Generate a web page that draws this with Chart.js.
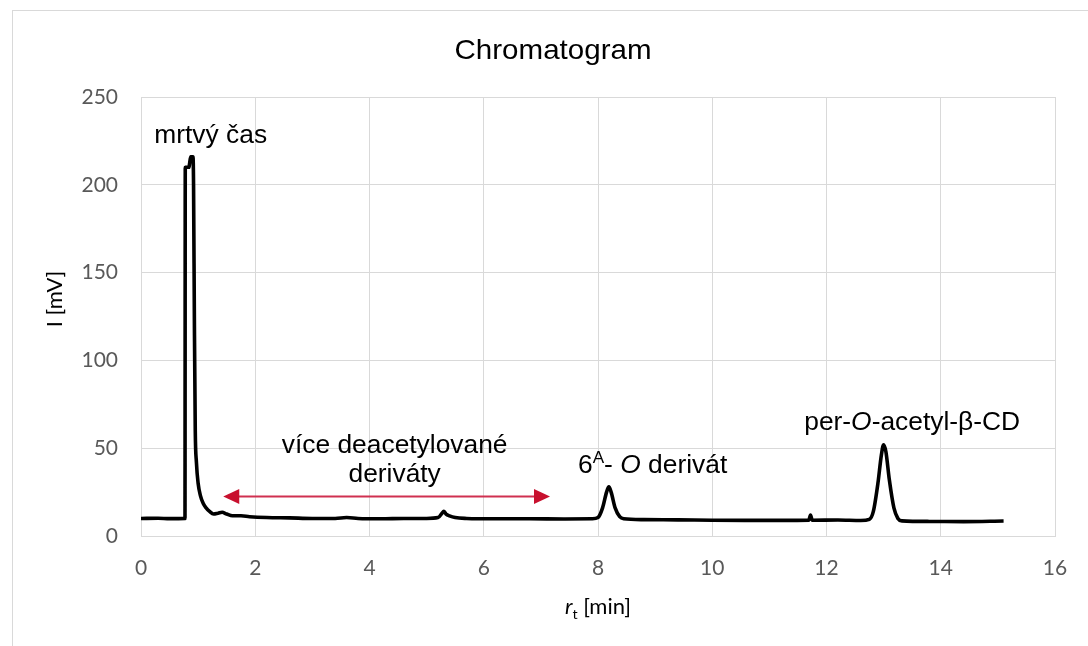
<!DOCTYPE html>
<html>
<head>
<meta charset="utf-8">
<script src="https://cdn.jsdelivr.net/npm/chart.js@4/dist/chart.umd.min.js"></script>
<style>
html,body{margin:0;padding:0;background:#fff;}
#c{display:block;}
</style>
</head>
<body>
<canvas id="c" width="1088" height="646"></canvas>
<script>
// ---- data ----
const times = [0,0.3,0.5,0.77,0.775,0.84,0.85,0.87,0.91,0.92,0.935,0.95,0.97,1.0,1.04,1.09,1.14,1.2,1.27,1.35,1.42,1.5,1.6,1.75,1.9,2.2,2.6,3.0,3.4,3.6,3.8,4.2,4.6,5.0,5.2,5.27,5.3,5.34,5.4,5.5,5.7,6.2,6.8,7.4,7.9,8.0,8.08,8.15,8.19,8.23,8.3,8.38,8.45,8.8,9.4,10.0,10.6,11.2,11.69,11.72,11.75,12.2,12.6,12.75,12.82,12.9,12.96,13.0,13.04,13.1,13.18,13.25,13.32,13.8,14.4,15.1];
const signal = [10,10.1,9.9,10,210,210,212,216,216,200,120,60,42,30,23,18.5,16,14,12.5,13,13.5,12.5,11.5,11.5,11,10.5,10.3,10,10,10.5,10,9.8,10,10,10.5,13,14,12.5,11.5,10.5,10,9.8,9.8,9.7,9.8,10.5,16,25,28,25,16,11,9.8,9.3,9.2,9.0,8.9,8.9,9,12,9,9.1,8.8,9.5,14,30,46,52,48,32,16,10,8.6,8.3,8.2,8.5];
const xTicks = [0,2,4,6,8,10,12,14,16];
const yTicks = [0,50,100,150,200,250];
const chartTitle = 'Chromatogram';
const labelDeadTime = 'mrtvý čas';
const labelMulti1 = 'více deacetylované';
const labelMulti2 = 'deriváty';
const arrowRange = [1.44, 7.16];
const arrowLevel = 22.8;

const points = times.map((t,i)=>({x:t,y:signal[i]}));

const SX = 1.055;
const AFONT = '"Liberation Sans", Arial, sans-serif';
const TFONT = 'Lato, "Liberation Sans", sans-serif';

function richWidth(ctx, segs, size, family){
  let w=0;
  for(const s of segs){
    const sz = (s.sup||s.sub)? size*0.65 : size;
    ctx.font = (s.it?'italic ':'')+sz+'px '+family;
    w += ctx.measureText(s.t).width;
  }
  return w;
}
function drawRich(ctx, segs, x, y, align, size, family, color, sx){
  ctx.save();
  ctx.translate(x,y);
  ctx.scale(sx,1);
  const w = richWidth(ctx, segs, size, family);
  let cx = align==='center' ? -w/2 : (align==='right' ? -w : 0);
  ctx.fillStyle = color;
  ctx.textBaseline = 'alphabetic';
  ctx.textAlign = 'left';
  for(const s of segs){
    const sz = (s.sup||s.sub)? size*0.65 : size;
    ctx.font = (s.it?'italic ':'')+sz+'px '+family;
    let dy = 0;
    if(s.sup) dy = -size*0.38;
    if(s.sub) dy = size*0.22;
    ctx.fillText(s.t, cx, dy);
    cx += ctx.measureText(s.t).width;
  }
  ctx.restore();
}

const decor = {
  id:'decor',
  beforeDraw(chart){
    const ctx = chart.ctx;
    ctx.save();
    ctx.fillStyle='#fff';
    ctx.fillRect(0,0,chart.width,chart.height);
    ctx.strokeStyle='#d9d9d9';
    ctx.lineWidth=1;
    ctx.strokeRect(12.5,10.5,1300,900);
    ctx.restore();
  },
  afterDraw(chart){
    const ctx = chart.ctx;
    const xs = chart.scales.x, ys = chart.scales.y;
    const ca = chart.chartArea;
    drawRich(ctx,[{t:chartTitle}], 553, 59, 'center', 28, AFONT, '#000', SX);
    drawRich(ctx,[{t:'r',it:true},{t:'t',sub:true},{t:' [min]'}], (ca.left+ca.right)/2, 614, 'center', 22, TFONT, '#000', 1);
    ctx.save();
    ctx.translate(62, 299);
    ctx.rotate(-Math.PI/2);
    drawRich(ctx,[{t:'I [mV]'}], 0, 0, 'center', 22, TFONT, '#000', 1);
    ctx.restore();
    drawRich(ctx,[{t:labelDeadTime}], xs.getPixelForValue(1.22), ys.getPixelForValue(223.8), 'center', 25, AFONT, '#000', SX);
    drawRich(ctx,[{t:labelMulti1}], xs.getPixelForValue(4.44), ys.getPixelForValue(47.3), 'center', 25, AFONT, '#000', SX);
    drawRich(ctx,[{t:labelMulti2}], xs.getPixelForValue(4.44), ys.getPixelForValue(30.8), 'center', 25, AFONT, '#000', SX);
    drawRich(ctx,[{t:'6'},{t:'A',sup:true},{t:'- '},{t:'O',it:true},{t:' derivát'}], xs.getPixelForValue(7.65), ys.getPixelForValue(35.9), 'left', 25, AFONT, '#000', SX);
    drawRich(ctx,[{t:'per-'},{t:'O',it:true},{t:'-acetyl-β-CD'}], xs.getPixelForValue(11.61), ys.getPixelForValue(60.5), 'left', 25, AFONT, '#000', SX);
    const ax1 = xs.getPixelForValue(arrowRange[0]), ax2 = xs.getPixelForValue(arrowRange[1]);
    const ay = Math.round(ys.getPixelForValue(arrowLevel))+0.5;
    const hl = 16, hw = 7.5;
    ctx.save();
    ctx.strokeStyle='#d03050';
    ctx.lineWidth=1.8;
    ctx.beginPath();
    ctx.moveTo(ax1+hl-2, ay); ctx.lineTo(ax2-hl+2, ay);
    ctx.stroke();
    ctx.fillStyle='#c8102e';
    ctx.beginPath();
    ctx.moveTo(ax1, ay); ctx.lineTo(ax1+hl, ay-hw); ctx.lineTo(ax1+hl, ay+hw); ctx.closePath(); ctx.fill();
    ctx.beginPath();
    ctx.moveTo(ax2, ay); ctx.lineTo(ax2-hl, ay-hw); ctx.lineTo(ax2-hl, ay+hw); ctx.closePath(); ctx.fill();
    ctx.restore();
  }
};

new Chart(document.getElementById('c'), {
  type:'scatter',
  data:{datasets:[{
    data:points,
    showLine:true,
    borderColor:'#000',
    borderWidth:3.6,
    pointRadius:0,
    cubicInterpolationMode:'monotone',
    fill:false
  }]},
  options:{
    responsive:false,
    animation:false,
    devicePixelRatio:1,
    layout:{padding:{top:97,right:33,left:0,bottom:0}},
    plugins:{legend:{display:false},tooltip:{enabled:false},title:{display:false}},
    scales:{
      x:{
        type:'linear', min:0, max:16,
        afterBuildTicks(s){ s.ticks = xTicks.map(v=>({value:v})); },
        afterFit(s){ s.height = 110; },
        grid:{color:'#d9d9d9', lineWidth:1, drawTicks:false},
        border:{color:'#d9d9d9', width:1},
        ticks:{padding:20, color:'#595959', font:{family:'Lato', size:21}, maxRotation:0}
      },
      y:{
        type:'linear', min:0, max:250,
        afterBuildTicks(s){ s.ticks = yTicks.map(v=>({value:v})); },
        afterFit(s){ s.width = 141; },
        grid:{color:'#d9d9d9', lineWidth:1, drawTicks:false},
        border:{color:'#d9d9d9', width:1},
        ticks:{padding:23, color:'#595959', font:{family:'Lato', size:21}}
      }
    }
  },
  plugins:[decor]
});
</script>
</body>
</html>
